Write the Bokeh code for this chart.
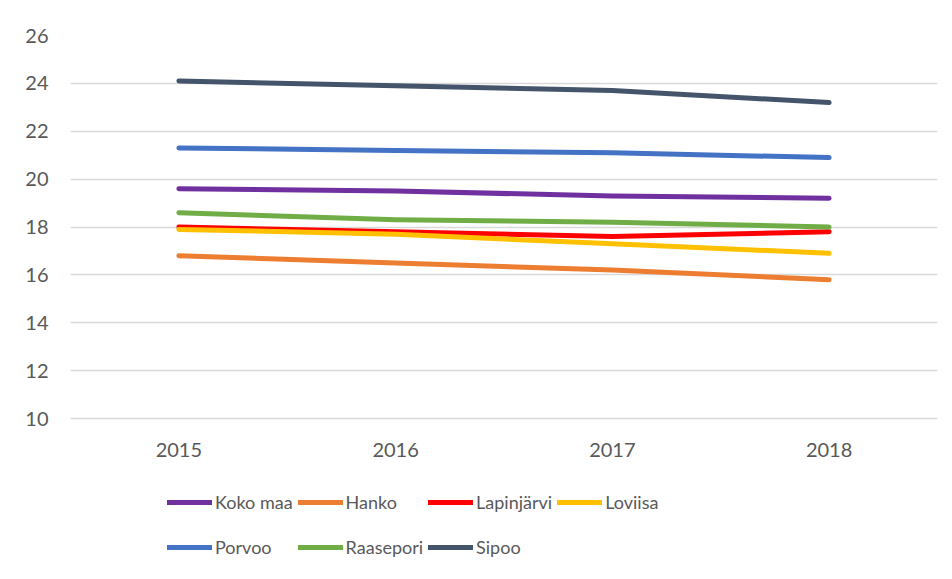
from bokeh.plotting import figure
from bokeh.models import Range1d, FactorRange, FixedTicker, Legend, LegendItem
from bokeh.embed import file_html
from bokeh.resources import INLINE

years = ["2015", "2016", "2017", "2018"]
koko_maa = [19.6, 19.5, 19.3, 19.2]
hanko = [16.8, 16.5, 16.2, 15.8]
lapinjarvi = [18.0, 17.8, 17.6, 17.8]
loviisa = [17.9, 17.7, 17.3, 16.9]
porvoo = [21.3, 21.2, 21.1, 20.9]
raasepori = [18.6, 18.3, 18.2, 18.0]
sipoo = [24.1, 23.9, 23.7, 23.2]
y_ticks = [10, 12, 14, 16, 18, 20, 22, 24, 26]

series = [
    ("Koko maa", koko_maa, "#7030A0"),
    ("Hanko", hanko, "#ED7D31"),
    ("Lapinjärvi", lapinjarvi, "#FF0000"),
    ("Loviisa", loviisa, "#FFC000"),
    ("Porvoo", porvoo, "#4472C4"),
    ("Raasepori", raasepori, "#70AD47"),
    ("Sipoo", sipoo, "#44546A"),
]

FONT = "Lato"
TXT = "#595959"

# frame spans from the top gridline (26) down to the bottom of the figure,
# so the legend can sit inside the frame below the x axis
p = figure(width=944, height=571, output_backend="svg", toolbar_location=None,
           x_range=FactorRange(*years, range_padding=0),
           y_range=Range1d(10 - 153 / 23.94, 26))
p.min_border_left = 70
p.min_border_right = 7
p.min_border_top = 35
p.min_border_bottom = 0
p.outline_line_color = None
p.background_fill_color = "white"
p.border_fill_color = "white"

p.xgrid.grid_line_color = None
p.ygrid.grid_line_color = "#D9D9D9"
p.ygrid.grid_line_width = 1.3
p.yaxis.ticker = FixedTicker(ticks=y_ticks)
p.xaxis.fixed_location = 10

for ax in (p.xaxis, p.yaxis):
    ax.axis_line_color = None
    ax.major_tick_line_color = None
    ax.minor_tick_line_color = None
    ax.major_label_text_font = FONT
    ax.major_label_text_font_size = "20px"
    ax.major_label_text_color = TXT
p.yaxis.major_label_standoff = 16
p.xaxis.major_label_standoff = 18

items = []
for name, vals, col in series:
    r = p.line(years, vals, line_color=col, line_width=5, line_cap="round", line_join="round")
    items.append(LegendItem(label=name, renderers=[r]))

legend = Legend(items=items, location=(97, 4), orientation="horizontal", ncols=4,
                glyph_width=45, glyph_height=40, label_standoff=3, spacing=5,
                label_width=76, padding=0, margin=0,
                label_text_font=FONT, label_text_font_size="18px", label_text_color=TXT,
                border_line_color=None, background_fill_alpha=0)
p.add_layout(legend, "center")

open("out.html", "w").write(file_html(p, INLINE))
